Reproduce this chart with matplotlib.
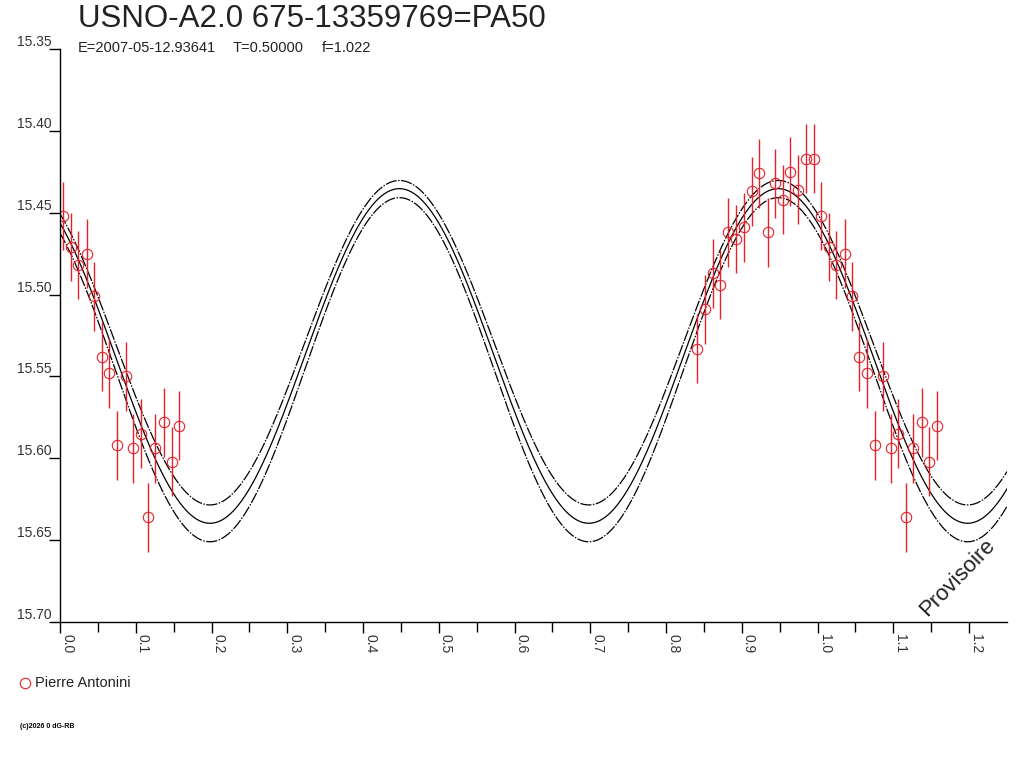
import numpy as np
import matplotlib.pyplot as plt
from matplotlib.lines import Line2D

plt.rcParams['font.family'] = ['Liberation Sans', 'DejaVu Sans']

# observations (phase, magnitude, error) - Pierre Antonini
phase = [0.0044, 0.0145, 0.0242, 0.0356, 0.0453, 0.0550, 0.0651, 0.0752,
         0.0867, 0.0964, 0.1065, 0.1162, 0.1254, 0.1373, 0.1474, 0.1575,
         0.8405, 0.8515, 0.8616, 0.8713, 0.8822, 0.8924, 0.9030, 0.9131,
         0.9228, 0.9347, 0.9439, 0.9541, 0.9641, 0.9743, 0.9844, 0.9954]
mag = [15.452, 15.471, 15.482, 15.475, 15.501, 15.538, 15.548, 15.592,
       15.550, 15.594, 15.585, 15.636, 15.594, 15.578, 15.602, 15.580,
       15.533, 15.509, 15.487, 15.494, 15.462, 15.466, 15.459, 15.437,
       15.426, 15.462, 15.432, 15.442, 15.425, 15.436, 15.417, 15.417]
err = [0.021] * len(phase)

# fitted light curve (period T=0.5 in phase) and its envelope
period = 0.5
phase_min = 0.198
fit_center = [15.5294, 15.5375, 15.5459]
fit_amp = [0.0991, 0.1022, 0.1051]
fit_style = ['dashdot', 'solid', 'dashdot']

xticks = np.arange(0, 1.25, 0.1)
yticks = np.arange(15.35, 15.701, 0.05)

red = '#e8202a'

fig = plt.figure(figsize=(10.24, 7.68), dpi=100)
ax = fig.add_axes([60/1024, 1-622/768, 947/1024, 573/768])

# model curves
xs = np.linspace(0, 1.25, 800)
for c, a, st in zip(fit_center, fit_amp, fit_style):
    ys = c + a*np.cos(2*np.pi*(xs - phase_min)/period)
    if st == 'dashdot':
        ax.plot(xs, ys, color='black', lw=0.9, dashes=(9, 1.2, 1.2, 1.2))
    else:
        ax.plot(xs, ys, color='black', lw=0.9)

# points plotted at phase and phase+1
ph = np.array(phase)
m = np.array(mag)
e = np.array(err)
for shift in [0, 1]:
    p = ph + shift
    ok = (p >= 0) & (p <= 1.25)
    ax.errorbar(p[ok], m[ok], yerr=e[ok], fmt='none', ecolor=red,
                elinewidth=1.0, capsize=0)
    ax.plot(p[ok], m[ok], 'o', mfc='none', mec=red, ms=7.5, mew=0.8)

ax.set_xlim(0, 1.25)
ax.set_ylim(15.70, 15.35)
ax.spines['top'].set_visible(False)
ax.spines['right'].set_visible(False)
ax.spines['left'].set_linewidth(1.0)
ax.spines['bottom'].set_linewidth(1.0)

ax.set_xticks(xticks)
ax.set_xticklabels(['%.1f' % v for v in xticks], rotation=-90,
                   ha='left', va='top', fontsize=10, color='#333333')
ax.set_xticks(np.arange(0.05, 1.25, 0.1), minor=True)
ax.tick_params(axis='x', which='major', length=8, width=1.0, pad=1)
ax.tick_params(axis='x', which='minor', length=7, width=1.0)

ax.set_yticks(yticks)
ax.set_yticklabels(['%.2f' % v for v in yticks], fontsize=10, color='#333333')
ax.tick_params(axis='y', which='major', length=8, width=1.0, pad=-2)
for lab in ax.get_yticklabels():
    lab.set_va('bottom')

ax.text(0.948, 0.078, 'Provisoire', transform=ax.transAxes, rotation=46,
        fontsize=16, color='#222222', ha='center', va='center')

# titles
fig.text(78/1024, 1-19/768, 'USNO-A2.0 675-13359769=PA50', fontsize=22.5,
         color='#222222', va='center', ha='left')
fig.text(78/1024, 1-48/768, 'E=2007-05-12.93641', fontsize=10.5,
         color='#222222', va='center')
fig.text(233/1024, 1-48/768, 'T=0.50000', fontsize=10.5,
         color='#222222', va='center')
fig.text(322/1024, 1-48/768, 'f=1.022', fontsize=10.5,
         color='#222222', va='center')

# legend
fig.add_artist(Line2D([25/1024], [1-683/768], transform=fig.transFigure,
                      marker='o', mfc='none', mec=red, ms=7.5, mew=0.8))
fig.text(35/1024, 1-683/768, 'Pierre Antonini', fontsize=10.5,
         color='#222222', va='center')

fig.text(20/1024, 1-727/768, '(c)2026 0 dG-RB', fontsize=5,
         color='black', va='center', weight='bold')

plt.savefig('out.png', dpi=100)
